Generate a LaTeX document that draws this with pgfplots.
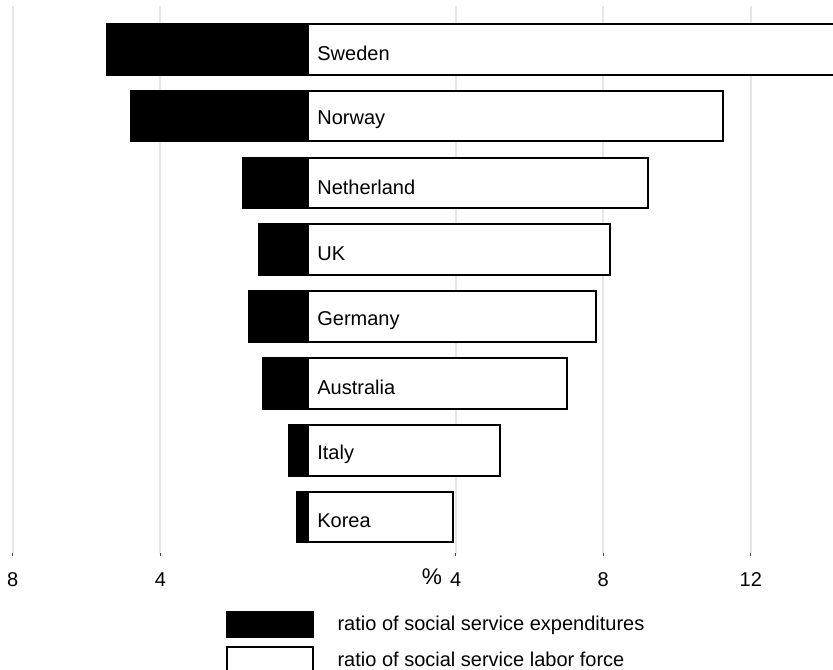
\documentclass[border=0pt]{standalone}
\usepackage{pgfplots}
\pgfplotsset{compat=1.18}
\usepackage{pgfplotstable}
\usepackage{fontspec}
\setmainfont{Liberation Sans}
\definecolor{gridgray}{RGB}{230,230,230}
\pgfplotstableread{
idx country    exp   labor
0   Korea      0.31  3.92
1   Italy      0.51  5.20
2   Australia  1.21  7.03
3   Germany    1.60  7.80
4   UK         1.34  8.18
5   Netherland 1.75  9.22
6   Norway     4.79  11.24
7   Sweden     5.45  14.60
}\datatable
\begin{document}
\begin{tikzpicture}
\useasboundingbox (0pt,-87.75pt) rectangle (624.75pt,414.75pt);
\begin{axis}[
  at={(0pt,0pt)}, anchor=south west,
  scale only axis,
  width=624.75pt, height=410.25pt,
  xmin=-8.347, xmax=14.228,
  ymin=-0.539, ymax=7.648,
  axis line style={draw=none},
  xmajorgrids,
  grid style={line width=1.5pt, gridgray},
  xtick={-8,-4,4,8,12},
  xticklabels={8,4,{\makebox[0pt][r]{\raisebox{2.2pt}{\fontsize{17pt}{20pt}\selectfont\%}\hspace{6pt}}4},8,12},
  xtick pos=lower,
  tick align=outside,
  major tick length=5pt,
  xtick style={draw=black!70, line width=0.9pt, dash pattern=on 0pt off 2.5pt on 2.5pt},
  ytick=\empty,
  tick label style={font=\fontsize{15pt}{18pt}\selectfont},
  xticklabel style={anchor=base, yshift=-20.5pt},
  legend style={at={(0.2705,-0.1055)}, anchor=north west, draw=none, fill=none,
    inner sep=0pt, row sep=6pt, font=\fontsize{15pt}{18pt}\selectfont,
    column sep=15.5pt},
  legend cell align=left,
  clip=true,
]
\addplot[xbar, bar width=38pt, bar shift=0pt, fill=black, draw=black, line width=1.5pt,
  legend image code/.code={\draw[fill=black,draw=black,line width=1.5pt] (0pt,-9.5pt) rectangle (65pt,9.5pt);}]
  table[x expr=-\thisrow{exp}, y=idx] {\datatable};
\addlegendentry{ratio of social service expenditures}
\addplot[xbar, bar width=38pt, bar shift=0pt, fill=white, draw=black, line width=1.5pt,
  legend image code/.code={\draw[fill=white,draw=black,line width=1.5pt] (0pt,-9.5pt) rectangle (65pt,9.5pt);}]
  table[x=labor, y=idx] {\datatable};
\addlegendentry{ratio of social service labor force}
\addplot[forget plot, only marks, mark=*, mark size=0pt, mark options={draw=none, fill=none},
  nodes near coords, point meta=explicit symbolic,
  nodes near coords style={anchor=west, xshift=3.5pt, yshift=-3pt, font=\fontsize{15pt}{18pt}\selectfont, text=black}]
  table[x expr=0, y=idx, meta=country] {\datatable};
\end{axis}
\end{tikzpicture}
\end{document}
